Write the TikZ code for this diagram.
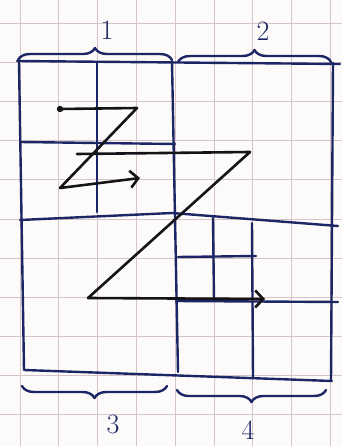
\documentclass[tikz,border=0pt]{standalone}
\usepackage{xcolor}
\usepackage{tikz}
\usetikzlibrary{arrows.meta,decorations.pathreplacing}
\definecolor{paper}{RGB}{252,251,249}
\definecolor{gridpink}{RGB}{214,196,200}
\definecolor{inkblue}{RGB}{28,38,100}
\definecolor{inkblack}{RGB}{20,20,24}
\tikzset{
  gridline/.style={draw=gridpink, line width=1pt},
  inkline/.style={draw=inkblue, line width=2.4pt, line cap=round, line join=round},
  zpath/.style={draw=inkblack, line width=2.6pt, line cap=round, line join=round},
  zarrow/.style={zpath, -{Straight Barb[length=8pt,width=17pt]}},
  curly/.style={inkline, decorate, decoration={brace, amplitude=12pt}},
  numlabel/.style={text=inkblue, inner sep=0pt, font=\fontsize{28}{30}\selectfont}
}

\begin{document}
\begin{tikzpicture}[x=1pt, y=-1pt]
\useasboundingbox[fill=paper] (0,0) rectangle (342,446);

% squared paper
\foreach \k in {0,...,8}
  \draw[gridline] ({20+38.8*\k},0) -- ({20+38.8*\k},446);
\foreach \k in {0,...,10}
  \draw[gridline] (0,{24+39*\k}) -- (342,{24+39*\k});

% outer frame and quarters
\draw[inkline] (17,61) -- (340,64);
\draw[inkline] (19,62) -- (24,370) -- (332,381);
\draw[inkline] (333,63) -- (331,381);
\draw[inkline] (172,62) -- (178,372);
\draw[inkline] (20,220) -- (172,213) -- (338,226);

% split of quarter 1
\draw[inkline] (97,62) -- (97,212);
\draw[inkline] (20,142) -- (175,144);

% split of quarter 4
\draw[inkline] (252,223) -- (253,378);
\draw[inkline] (176,301) -- (338,302);
\draw[inkline] (213,218) -- (214,300);
\draw[inkline] (178,257) -- (256,256);

% braces and numbers
\draw[curly] (18,60) -- (172,60);
\draw[curly] (178,62) -- (331,62);
\draw[curly] (167,386) -- (22,386);
\draw[curly] (326,390) -- (177,390);
\node[numlabel] (n1) at (107,30) {1};
\node[numlabel] (n2) at (263,31) {2};
\node[numlabel] (n3) at (113,424) {3};
\node[numlabel] (n4) at (248,430) {4};

% small Z order
\fill[inkblack] (60,109) circle (3.2pt);
\draw[zarrow] (60,109) -- (137,108) -- (60,188) -- (140,178);

% large Z order
\draw[zarrow] (77,154) -- (250,152) -- (88,298) -- (265,299);
\end{tikzpicture}
\end{document}
